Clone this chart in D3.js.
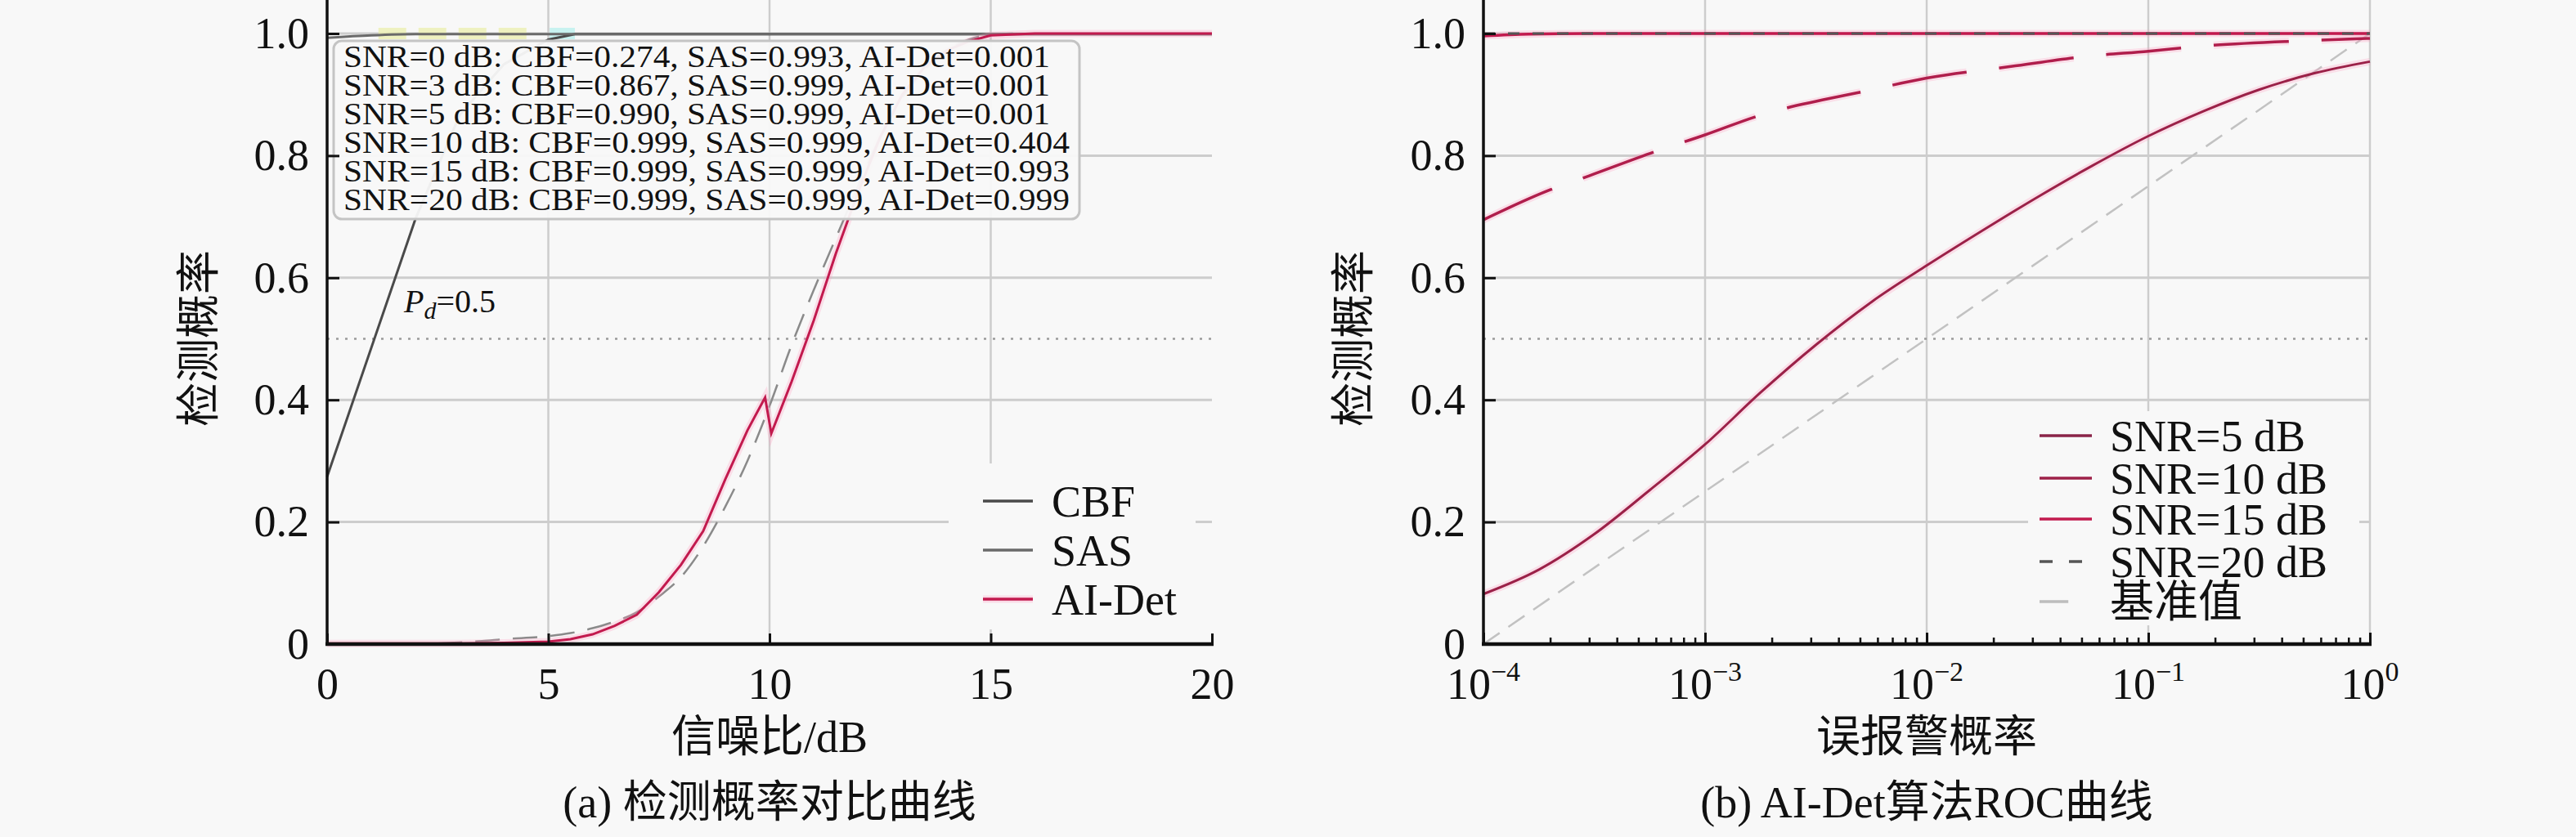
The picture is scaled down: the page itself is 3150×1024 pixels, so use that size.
<!DOCTYPE html>
<html>
<head>
<meta charset="utf-8">
<script src="https://cdn.jsdelivr.net/npm/d3@7"></script>
<style>
    html, body { margin: 0; padding: 0; background: #f8f8f8; }
    svg text { font-family: 'Liberation Serif', 'Times New Roman', 'Noto Sans CJK SC', serif; fill: #111; }
</style>
</head>
<body>
<svg id="chart" width="3150" height="1024"></svg>
<script>
// ---- (a) detection probability vs SNR ----
const cbfSnr = [0, 2, 3, 4, 5, 5.6, 10, 15, 20];
const cbfPd  = [0.274, 0.697, 0.867, 0.95, 0.99, 0.999, 0.999, 0.999, 0.999];

const sasSnr = [0, 1, 2, 20];
const sasPd  = [0.993, 0.997, 0.999, 0.999];

const aiSnr = [0, 3, 4, 5, 5.5, 6, 6.5, 7, 7.5, 8, 8.5, 9, 9.5, 9.9, 10.04, 10.5, 11, 11.5, 12, 12.5, 13, 13.5, 14, 14.5, 15, 16, 20];
const aiPd  = [0.001, 0.001, 0.002, 0.004, 0.008, 0.016, 0.03, 0.048, 0.085, 0.13, 0.185, 0.27, 0.35, 0.404, 0.345, 0.43, 0.53, 0.64, 0.74, 0.83, 0.9, 0.945, 0.972, 0.987, 0.997, 1.0, 1.0];

// unlabelled grey dashed reference curve
const refSnr = [2.5, 3.5, 4, 5, 5.5, 6, 6.5, 7, 7.5, 8, 8.5, 9, 9.5, 10, 10.5, 11, 11.5, 12, 12.5, 13, 13.5, 14, 14.5, 15, 15.5];
const refPd  = [0.001, 0.005, 0.008, 0.013, 0.018, 0.026, 0.037, 0.052, 0.078, 0.11, 0.16, 0.225, 0.3, 0.39, 0.49, 0.58, 0.665, 0.75, 0.83, 0.895, 0.94, 0.972, 0.99, 0.998, 1.0];

const sasGlowSnr = [1.16, 4.75];
const cbfGlowSnr = [5.03, 5.6];

const statSnr = [0, 3, 5, 10, 15, 20];
const statCbf = ['0.274', '0.867', '0.990', '0.999', '0.999', '0.999'];
const statSas = ['0.993', '0.999', '0.999', '0.999', '0.999', '0.999'];
const statAi  = ['0.001', '0.001', '0.001', '0.404', '0.993', '0.999'];

const snrTicks = [0, 5, 10, 15, 20];
const pdTicks = [0, 0.2, 0.4, 0.6, 0.8, 1.0];

// ---- (b) ROC ----
const pfa5 = [1e-4, 1.78e-4, 3.16e-4, 5.62e-4, 1e-3, 1.78e-3, 3.16e-3, 5.62e-3, 1e-2, 1.78e-2, 3.16e-2, 5.62e-2, 1e-1, 1.78e-1, 3.16e-1, 5.62e-1, 1];
const pd5  = [0.082, 0.122, 0.18, 0.252, 0.327, 0.412, 0.49, 0.56, 0.62, 0.677, 0.732, 0.784, 0.832, 0.873, 0.908, 0.935, 0.954];

const pfa10 = [1e-4, 2e-4, 3e-4, 6e-4, 1e-3, 1.7e-3, 5.5e-3, 1e-2, 2.4e-2, 5.4e-2, 1e-1, 1.7e-1, 5e-1, 1];
const pd10  = [0.695, 0.744, 0.767, 0.807, 0.834, 0.864, 0.907, 0.927, 0.946, 0.963, 0.971, 0.979, 0.988, 0.992];

const pfa15 = [1e-4, 1.6e-4, 3e-4, 1];
const pd15  = [0.996, 0.999, 1.0, 1.0];

const pfa20 = [1e-4, 1];
const pd20  = [1.0, 1.0];

const pfaBase = [1e-4, 1e-3, 1e-2, 1e-1, 1];
const pdBase  = [0, 0.25, 0.5, 0.75, 1.0];

const pfaTicks = [1e-4, 1e-3, 1e-2, 1e-1, 1];
const pfaExp = ['−4', '−3', '−2', '−1', '0'];

const CRIMSON = '#c21a4e';
const GLOW = '#ff9cc0';
const BG = '#f8f8f8';

const svg = d3.select('#chart');
svg.append('rect').attr('width', 3150).attr('height', 1024).attr('fill', BG);

const yS = d3.scaleLinear().domain([0, 1]).range([788, 41]);
const xL = d3.scaleLinear().domain([0, 20]).range([400, 1482]);
const xR = d3.scaleLog().domain([1e-4, 1]).range([1814, 2898]);

const zip = (xs, ys) => xs.map((x, i) => [x, ys[i]]);

function drawLine(g, xs, ys, x, opts) {
    const line = d3.line()
        .x(d => x(d[0]))
        .y(d => yS(d[1]))
        .curve(opts.curve || d3.curveMonotoneX);
    const data = zip(xs, ys);
    if (opts.glow) {
        g.append('path').attr('d', line(data))
            .attr('fill', 'none').attr('stroke', opts.glow)
            .attr('stroke-width', 9).attr('stroke-opacity', 0.28)
            .attr('stroke-dasharray', opts.dash || null);
    }
    g.append('path').attr('d', line(data))
        .attr('fill', 'none')
        .attr('stroke', opts.color)
        .attr('stroke-width', opts.width || 3)
        .attr('stroke-dasharray', opts.dash || null);
}

function drawGrid(g, x, xGrid, x0, x1) {
    g.selectAll('.vgrid').data(xGrid).enter().append('line')
        .attr('x1', d => x(d)).attr('x2', d => x(d))
        .attr('y1', 0).attr('y2', 788)
        .attr('stroke', '#cdcdcd').attr('stroke-width', 2.5);
    g.selectAll('.hgrid').data(pdTicks.slice(1)).enter().append('line')
        .attr('x1', x0).attr('x2', x1)
        .attr('y1', d => yS(d)).attr('y2', d => yS(d))
        .attr('stroke', '#cdcdcd').attr('stroke-width', 3);
    // Pd = 0.5 dotted level
    g.append('line')
        .attr('x1', x0).attr('x2', x1)
        .attr('y1', yS(0.5)).attr('y2', yS(0.5))
        .attr('stroke', '#9a9a9a').attr('stroke-width', 2.5)
        .attr('stroke-dasharray', '3,8');
}

function drawYAxis(g, x0, labelX) {
    const ax = g.append('g').attr('transform', `translate(${x0},0)`)
        .call(d3.axisLeft(yS).tickValues(pdTicks).tickSize(-15).tickSizeOuter(0).tickPadding(22)
            .tickFormat(d => d === 0 ? '0' : d.toFixed(1)));
    ax.select('.domain').remove();
    ax.selectAll('line').attr('stroke', '#111').attr('stroke-width', 3);
    ax.selectAll('text').style('font-size', '54px').attr('fill', '#111');
    g.append('line').attr('x1', x0).attr('x2', x0).attr('y1', 0).attr('y2', 790)
        .attr('stroke', '#111').attr('stroke-width', 3.5);
    g.append('text')
        .attr('transform', `translate(${labelX},414) rotate(-90)`)
        .attr('text-anchor', 'middle').attr('dy', '0.35em')
        .style('font-size', '54px')
        .text('检测概率');
}

function drawLegend(g, box, rows, lineX0, lineX1, textX) {
    g.append('rect').attr('x', box[0]).attr('y', box[1])
        .attr('width', box[2]).attr('height', box[3]).attr('fill', BG);
    const row = g.selectAll('.leg').data(rows).enter().append('g');
    row.filter(d => d.glow).append('line')
        .attr('x1', lineX0).attr('x2', lineX1)
        .attr('y1', d => d.y).attr('y2', d => d.y)
        .attr('stroke', GLOW).attr('stroke-width', 9).attr('stroke-opacity', 0.3);
    row.append('line')
        .attr('x1', lineX0).attr('x2', d => d.short ? lineX0 + (lineX1 - lineX0) * 0.55 : lineX1)
        .attr('y1', d => d.y).attr('y2', d => d.y)
        .attr('stroke', d => d.color).attr('stroke-width', 3.5)
        .attr('stroke-dasharray', d => d.dash || null);
    row.append('text')
        .attr('x', textX).attr('y', d => d.y).attr('dy', '0.35em')
        .style('font-size', '54px')
        .text(d => d.label);
}

// ================= panel (a) =================
const gA = svg.append('g');
drawGrid(gA, xL, [5, 10, 15], 400, 1482);

// faint glow bands along the Pd = 1 ceiling
gA.append('line')
    .attr('x1', xL(sasGlowSnr[0])).attr('x2', xL(sasGlowSnr[1]))
    .attr('y1', yS(1)).attr('y2', yS(1))
    .attr('stroke', '#eaeea8').attr('stroke-width', 14).attr('stroke-opacity', 0.7)
    .attr('stroke-dasharray', '34,15');
gA.append('line')
    .attr('x1', xL(cbfGlowSnr[0])).attr('x2', xL(cbfGlowSnr[1]))
    .attr('y1', yS(1)).attr('y2', yS(1))
    .attr('stroke', '#b4f0ec').attr('stroke-width', 14).attr('stroke-opacity', 0.7);

drawLine(gA, refSnr, refPd, xL, { color: '#8a8a8a', width: 2.5, dash: '30,16' });
drawLine(gA, cbfSnr, cbfPd, xL, { color: '#4a4a4a', width: 3, curve: d3.curveLinear });
drawLine(gA, sasSnr, sasPd, xL, { color: '#6a6a6a', width: 3 });
drawLine(gA, aiSnr, aiPd, xL, { color: CRIMSON, width: 3, glow: GLOW, curve: d3.curveLinear });

// Pd = 0.5 annotation
const pdLab = gA.append('text').attr('x', 494).attr('y', 382).style('font-size', '40px');
pdLab.append('tspan').style('font-style', 'italic').text('P');
pdLab.append('tspan').style('font-style', 'italic').style('font-size', '30px').attr('dy', 8).text('d');
pdLab.append('tspan').attr('dy', -8).text('=0.5');

// statistics box: one multi-line text block
gA.append('rect').attr('x', 408).attr('y', 50).attr('width', 912).attr('height', 218)
    .attr('rx', 10).attr('fill', BG).attr('fill-opacity', 0.95)
    .attr('stroke', '#c4c4c4').attr('stroke-width', 3);
const statText = gA.append('text').attr('x', 420).attr('y', 82).style('font-size', '38px');
statText.selectAll('tspan').data(statSnr).enter().append('tspan')
    .attr('x', 420).attr('dy', (d, i) => i === 0 ? 0 : 35)
    .attr('textLength', (d, i) => d >= 10 ? 888 : 864)
    .attr('lengthAdjust', 'spacingAndGlyphs')
    .text((d, i) => `SNR=${d} dB: CBF=${statCbf[i]}, SAS=${statSas[i]}, AI-Det=${statAi[i]}`);

drawLegend(gA, [1160, 567, 302, 203], [
    { label: 'CBF', color: '#4a4a4a', y: 613 },
    { label: 'SAS', color: '#6a6a6a', y: 673 },
    { label: 'AI-Det', color: CRIMSON, y: 733, glow: true }
], 1202, 1263, 1286);

// axes (a)
const axA = gA.append('g').attr('transform', 'translate(0,788)')
    .call(d3.axisBottom(xL).tickValues(snrTicks).tickSize(-13).tickSizeOuter(0).tickPadding(29));
axA.select('.domain').remove();
axA.selectAll('line').attr('stroke', '#111').attr('stroke-width', 3);
axA.selectAll('text').style('font-size', '54px').attr('fill', '#111');
gA.append('line').attr('x1', 398).attr('x2', 1484).attr('y1', 788).attr('y2', 788)
    .attr('stroke', '#111').attr('stroke-width', 4.5);
drawYAxis(gA, 400, 243);

gA.append('text').attr('x', 941).attr('y', 920).attr('text-anchor', 'middle')
    .style('font-size', '54px').text('信噪比/dB');
gA.append('text').attr('x', 941).attr('y', 1000).attr('text-anchor', 'middle')
    .style('font-size', '54px').text('(a) 检测概率对比曲线');

// ================= panel (b) =================
const gB = svg.append('g');
drawGrid(gB, xR, pfaTicks.slice(1), 1814, 2898);

drawLine(gB, pfaBase, pdBase, xR, { color: '#c2c2c2', width: 2.5, dash: '24,13', curve: d3.curveLinear });
drawLine(gB, pfa5, pd5, xR, { color: '#9b2148', width: 3, glow: GLOW });
drawLine(gB, pfa10, pd10, xR, { color: '#b01e4c', width: 3.5, glow: GLOW, dash: '92,40' });
drawLine(gB, pfa15, pd15, xR, { color: CRIMSON, width: 3.5, glow: GLOW });
drawLine(gB, pfa20, pd20, xR, { color: '#555', width: 3, dash: '14,16', curve: d3.curveLinear });

drawLegend(gB, [2480, 503, 405, 262], [
    { label: 'SNR=5 dB', color: '#8a2448', y: 533 },
    { label: 'SNR=10 dB', color: '#9e2149', y: 585 },
    { label: 'SNR=15 dB', color: CRIMSON, y: 635 },
    { label: 'SNR=20 dB', color: '#555', y: 687, dash: '16,20' },
    { label: '基准值', color: '#bdbdbd', y: 736, short: true }
], 2494, 2558, 2580);

// axes (b): minor + major ticks, superscript labels
const minorB = gB.append('g').attr('transform', 'translate(0,788)')
    .call(d3.axisBottom(xR).tickValues(xR.ticks()).tickSize(-8).tickSizeOuter(0).tickFormat(''));
minorB.select('.domain').remove();
minorB.selectAll('line').attr('stroke', '#111').attr('stroke-width', 2.5);
const majorB = gB.append('g').attr('transform', 'translate(0,788)')
    .call(d3.axisBottom(xR).tickValues(pfaTicks).tickSize(-14).tickSizeOuter(0).tickFormat(''));
majorB.select('.domain').remove();
majorB.selectAll('line').attr('stroke', '#111').attr('stroke-width', 3);

const pfaLab = gB.selectAll('.pfa').data(pfaTicks).enter().append('text')
    .attr('x', d => xR(d)).attr('y', 855).attr('text-anchor', 'middle')
    .style('font-size', '54px');
pfaLab.append('tspan').text('10');
pfaLab.append('tspan').attr('dy', -22).style('font-size', '34px').text((d, i) => pfaExp[i]);

gB.append('line').attr('x1', 1812).attr('x2', 2900).attr('y1', 788).attr('y2', 788)
    .attr('stroke', '#111').attr('stroke-width', 4.5);
drawYAxis(gB, 1814, 1655);

gB.append('text').attr('x', 2356).attr('y', 920).attr('text-anchor', 'middle')
    .style('font-size', '54px').text('误报警概率');
gB.append('text').attr('x', 2356).attr('y', 1000).attr('text-anchor', 'middle')
    .style('font-size', '54px').text('(b) AI-Det算法ROC曲线');
</script>
</body>
</html>
